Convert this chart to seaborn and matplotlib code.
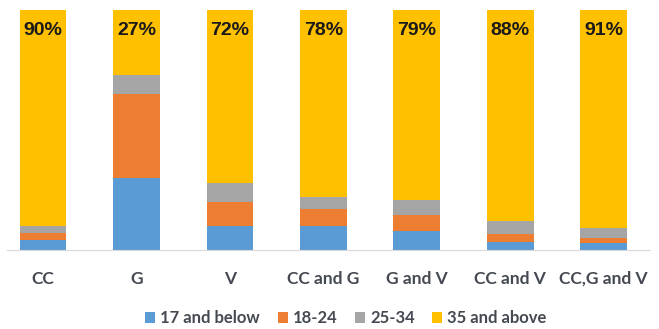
import numpy as np
import pandas as pd
import matplotlib
matplotlib.use("Agg")
import matplotlib.pyplot as plt
from matplotlib.patches import Patch
import seaborn as sns

# chart data (percent of respondents per group)
groups = ["CC", "G", "V", "CC and G", "G and V", "CC and V", "CC,G and V"]
age_17_below = [4, 30, 10, 10, 8, 3.5, 3]
age_18_24 = [3, 35, 10, 7, 6.5, 3, 2]
age_25_34 = [3, 8, 8, 5, 6.5, 5.5, 4]
age_35_above = [90, 27, 72, 78, 79, 88, 91]
series_names = ["17 and below", "18-24", "25-34", "35 and above"]
colors = ["#5B9BD5", "#ED7D31", "#A5A5A5", "#FFC000"]

sns.set_style("white")
plt.rcParams["font.family"] = ["Lato", "DejaVu Sans"]

df = pd.DataFrame({"group": groups, "a": age_17_below, "b": age_18_24,
                   "c": age_25_34, "d": age_35_above})
cum = df[["a", "b", "c", "d"]].cumsum(axis=1)

fig = plt.figure(figsize=(6.59, 3.29), dpi=100)
ax = fig.add_axes([0.0106, 0.24, 0.975, 0.73])

# draw cumulative totals from the top segment down so they stack visually
for col, color in zip(["d", "c", "b", "a"], colors[::-1]):
    sns.barplot(x=df["group"], y=cum[col], color=color, width=0.5,
                saturation=1, ax=ax, edgecolor="none")

for i, v in enumerate(age_35_above):
    ax.text(i, 91.5, f"{v}%", ha="center", va="center", fontsize=14,
            fontweight="bold", color="#1a1a1a",
            family=["Liberation Sans", "DejaVu Sans"])

ax.set_ylim(0, 100)
ax.set_xlim(-0.385, 6.49)
ax.set_xlabel("")
ax.set_ylabel("")
ax.set_yticks([])
for s in ["top", "right", "left"]:
    ax.spines[s].set_visible(False)
ax.spines["bottom"].set_color("#D9D9D9")
ax.tick_params(axis="x", length=0, pad=15, labelsize=12.5, labelcolor="#454a52")
for lbl in ax.get_xticklabels():
    lbl.set_fontweight("bold")

handles = [Patch(facecolor=c, edgecolor="none") for c in colors]
leg = fig.legend(handles, series_names, loc="center", bbox_to_anchor=(0.525, 0.033),
                 ncol=4, frameon=False, fontsize=12, handlelength=0.6,
                 handleheight=0.6, handletextpad=0.3, columnspacing=1.05,
                 labelcolor="#454a52")
for t in leg.get_texts():
    t.set_fontweight("bold")

fig.savefig("out.png", dpi=100)
